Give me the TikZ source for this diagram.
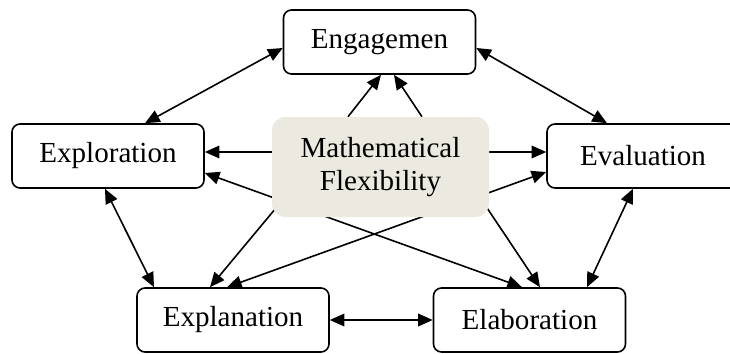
\documentclass[tikz,border=0pt]{standalone}
\usepackage{fontspec}
\setmainfont{Liberation Serif}
\usetikzlibrary{arrows.meta, positioning, calc, backgrounds}
\definecolor{flex}{RGB}{236,234,224}

\begin{document}
\begin{tikzpicture}[x=0.75pt, y=-0.75pt, >={Triangle[length=11pt,width=9.5pt]}]
  \tikzstyle{element}=[rectangle, draw, rounded corners=6pt, line width=1.2pt, minimum width=144pt, minimum height=48pt, font=\fontsize{21.8}{24.8}\selectfont]
  \tikzstyle{centre}=[rectangle, fill=flex, rounded corners=10pt, minimum width=162.75pt, minimum height=75pt, align=center, font=\fontsize{21.8}{24.8}\selectfont]
  \tikzstyle{link}=[line width=1.2pt]
  \useasboundingbox (0,0) rectangle (730,353);
  % the five phases round the centre
  \node[centre] (mf) at (380.5,167) {Mathematical\\Flexibility};
  \node[element] (eng) at (379.5,42) {Engagemen};
  \node[element] (expl) at (108,156) {Exploration};
  \node[element] (eval) at (643,156) {Evaluation};
  \node[element] (explan) at (233,320) {Explanation};
  \node[element] (elab) at (529.5,320) {Elaboration};
  \begin{scope}[on background layer={link}]
    % outer ring
    \draw[<->] ($(eng.west)+(0,6)$) -- ($(expl.north)+(37,0)$);
    \draw[<->] ($(eng.east)+(0,6)$) -- ($(eval.north)+(-36,0)$);
    \draw[<->] ($(expl.south)+(-3,0)$) -- ($(explan.north)+(-79,0)$);
    \draw[<->] ($(eval.south)+(-10,0)$) -- ($(elab.north)+(57.5,0)$);
    \draw[<->] (explan.east) -- (elab.west);
    % crossing links
    \draw[<->] ($(expl.east)+(0,17)$) -- ($(elab.north)+(-7.5,0)$);
    \draw[<->] ($(eval.west)+(0,16)$) -- ($(explan.north)+(-6,0)$);
    % from the centre
    \draw[->] ($(mf.north)+(-32.5,0)$) -- ($(eng.south)+(1.5,0)$);
    \draw[->] ($(mf.north)+(41.5,0)$) -- ($(eng.south)+(14.5,0)$);
    \draw[->] ($(mf.west)+(0,-15)$) -- ($(expl.east)+(0,-4)$);
    \draw[->] ($(mf.east)+(0,-15)$) -- ($(eval.west)+(0,-4)$);
    \draw[->] ($(mf.south west)+(4,-9)$) -- ($(explan.north)+(-23,0)$);
    \draw[->] ($(mf.south east)+(-2,-9)$) -- ($(elab.north)+(10.5,0)$);
  \end{scope}
\end{tikzpicture}
\end{document}
